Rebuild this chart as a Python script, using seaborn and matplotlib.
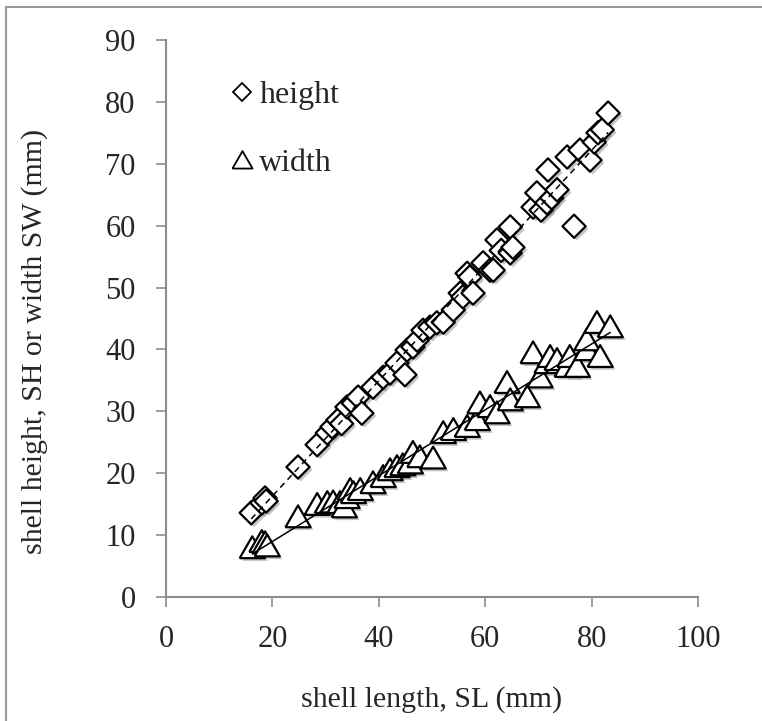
import numpy as np
import matplotlib
matplotlib.use("Agg")
import matplotlib.pyplot as plt
import matplotlib.patheffects as pe
from matplotlib.lines import Line2D
import seaborn as sns

# -------------------------------------
# podaci ocitani sa slike
# -------------------------------------
height_sl = [16.0, 18.0, 18.6, 18.8, 24.8, 28.4, 30.3, 31.2, 32.3, 33.0, 34.0, 35.2,
             36.1, 36.8, 38.9, 40.8, 42.1, 43.4, 44.9, 45.3, 46.4, 47.2, 48.3, 49.6,
             50.9, 52.1, 54.0, 55.3, 55.8, 56.6, 57.1, 57.7, 59.6, 60.9, 61.5, 62.2,
             63.0, 64.7, 64.7, 65.2, 69.0, 69.7, 70.5, 71.6, 71.8, 72.5, 73.5, 75.4,
             76.7, 77.8, 79.7, 80.5, 81.2, 82.0, 83.1]
height_sh = [13.6, 15.2, 16.0, 15.5, 21.0, 24.6, 26.5, 27.5, 28.6, 28.0, 30.7, 31.3,
             32.3, 29.7, 33.9, 35.5, 36.2, 37.8, 35.9, 39.9, 40.4, 41.5, 43.1, 43.6,
             44.3, 44.4, 46.4, 49.1, 48.5, 52.3, 51.7, 49.1, 54.0, 52.8, 52.8, 57.7,
             56.0, 59.8, 55.6, 56.5, 63.0, 65.3, 62.5, 63.7, 69.0, 64.5, 65.8, 71.1,
             59.9, 72.2, 70.6, 73.5, 75.0, 75.5, 78.2]

width_sl = [16.2, 18.0, 18.6, 19.0, 24.8, 28.4, 30.3, 31.4, 32.7, 33.5, 34.0, 34.6,
            35.2, 36.5, 38.9, 40.8, 42.1, 43.4, 44.5, 45.9, 46.4, 47.7, 50.2, 52.1,
            54.0, 56.6, 58.5, 59.0, 60.9, 62.2, 64.1, 64.7, 67.9, 69.0, 70.3, 71.6,
            72.2, 73.5, 75.4, 75.9, 77.3, 79.1, 79.1, 81.0, 81.6, 83.5]
width_sw = [7.9, 8.9, 8.7, 8.2, 12.9, 14.9, 15.2, 15.3, 15.2, 14.5, 16.0, 17.3,
            16.8, 17.3, 18.4, 19.4, 20.5, 21.0, 21.3, 21.6, 23.3, 22.6, 22.4, 26.5,
            27.0, 27.5, 28.6, 31.3, 30.7, 29.7, 34.6, 31.8, 32.3, 39.4, 35.5, 37.8,
            38.8, 38.3, 37.2, 38.8, 37.2, 39.9, 41.5, 44.3, 38.8, 43.6]

x_ticks = [0, 20, 40, 60, 80, 100]
y_ticks = [0, 10, 20, 30, 40, 50, 60, 70, 80, 90]

sns.set_style("white")
plt.rcParams['font.family'] = ['Liberation Serif', 'DejaVu Serif']

fig = plt.figure(figsize=(7.62, 7.21), dpi=100)
ax = fig.add_axes([0.218, 0.172, 0.698, 0.7725])

# jednakostranicni trokut kao marker
tri = [(-1, -0.8), (1, -0.8), (0, 0.932), (-1, -0.8)]
shadow = [pe.SimplePatchShadow(offset=(2, -2), shadow_rgbFace="0.5", alpha=0.45), pe.Normal()]

sns.scatterplot(x=height_sl, y=height_sh, marker="D", s=140, facecolor="white",
                edgecolor="black", linewidth=1.6, ax=ax, zorder=3)
sns.scatterplot(x=width_sl, y=width_sw, marker=tri, s=330, facecolor="white",
                edgecolor="black", linewidth=1.6, ax=ax, zorder=3)
for coll in ax.collections:
    coll.set_path_effects(shadow)

# linearni trendovi
for xs, ys, ls in [(height_sl, height_sh, (0, (4, 3))), (width_sl, width_sw, "-")]:
    k, b = np.polyfit(xs, ys, 1)
    xx = np.array([min(xs), max(xs)])
    ax.plot(xx, k * xx + b, color="black", lw=1.1, linestyle=ls, zorder=4)

ax.set_xlim(0, 100)
ax.set_ylim(0, 90)
ax.set_xticks(x_ticks)
ax.set_yticks(y_ticks)
ax.tick_params(axis="both", direction="out", length=7, width=1.2, color="#8c8c8c",
               labelsize=22, left=True, bottom=True)
ax.tick_params(axis="y", pad=15)
ax.tick_params(axis="x", pad=13)
for side in ["top", "right"]:
    ax.spines[side].set_visible(False)
for side in ["left", "bottom"]:
    ax.spines[side].set_color("#8c8c8c")
    ax.spines[side].set_linewidth(1.5)

ax.set_xlabel("shell length, SL (mm)", fontsize=21.5)
ax.set_ylabel("shell height, SH or width SW (mm)", fontsize=21.5)
ax.xaxis.set_label_coords(0.5, -0.16)
ax.yaxis.set_label_coords(-0.222, 0.458)

handles = [Line2D([], [], marker="D", ls="", markersize=9, markerfacecolor="white",
                  markeredgecolor="black", markeredgewidth=1.3),
           Line2D([], [], marker=tri, ls="", markersize=14.5, markerfacecolor="white",
                  markeredgecolor="black", markeredgewidth=1.3)]
ax.legend(handles, ["height", "width"], loc="upper left", bbox_to_anchor=(0.064, 0.978),
          frameon=False, fontsize=23, handlelength=0.8, handletextpad=0.15,
          labelspacing=1.2)

# okvir oko grafa
fig.add_artist(Line2D([0.008, 1.0], [1 - 7 / 721, 1 - 7 / 721], color="#9a9a9a", lw=1.5))
fig.add_artist(Line2D([0.008, 0.008], [0.0, 1 - 7 / 721], color="#9a9a9a", lw=1.5))

fig.savefig("out.png", dpi=100)
